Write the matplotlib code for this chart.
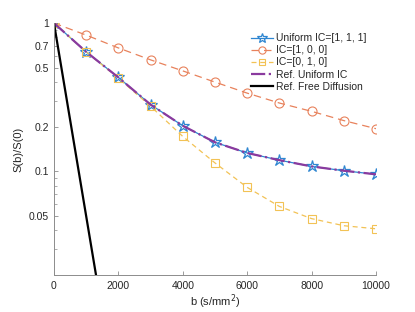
import numpy as np
import matplotlib.pyplot as plt
from matplotlib.ticker import FixedLocator, NullFormatter, LogLocator

plt.rcParams['font.family'] = ['Liberation Sans', 'DejaVu Sans']

# datos
b = [0, 1000, 2000, 3000, 4000, 5000, 6000, 7000, 8000, 9000, 10000]
s_uniforme = [1.0, 0.64, 0.43, 0.282, 0.203, 0.157, 0.133, 0.119, 0.108, 0.101, 0.0955]
s_ic100 = [1.0, 0.83, 0.68, 0.565, 0.476, 0.40, 0.337, 0.289, 0.254, 0.22, 0.194]
s_ic010 = [1.0, 0.64, 0.425, 0.275, 0.172, 0.114, 0.078, 0.058, 0.048, 0.043, 0.041]
s_ref_uniforme = [1.0, 0.64, 0.43, 0.282, 0.203, 0.157, 0.133, 0.119, 0.108, 0.101, 0.0955]
b_libre = [0, 2000]
s_libre = [1.0, 0.0025]

fig = plt.figure(figsize=(4.15, 3.12), dpi=100)
ax = fig.add_axes([0.130, 0.1186, 0.776, 0.8074])

ax.plot(b, s_uniforme, '-', marker='*', color='#2E86D1', mfc='none', ms=9, mew=0.9, lw=0.9,
        label='Uniform IC=[1, 1, 1]')
ax.plot(b, s_ic100, '--', marker='o', color='#E8825C', mfc='none', ms=6.5, mew=0.8, lw=0.9,
        dashes=(6, 4), label='IC=[1, 0, 0]')
ax.plot(b, s_ic010, '--', marker='s', color='#F2C255', mfc='none', ms=5.5, mew=0.8, lw=0.9,
        dashes=(4, 3), label='IC=[0, 1, 0]')
ax.plot(b, s_ref_uniforme, '-.', color='#8A3A9E', lw=1.6, label='Ref. Uniform IC')
ax.plot(b_libre, s_libre, '-', color='black', lw=1.6, label='Ref. Free Diffusion')

ax.set_yscale('log')
ax.set_xlim(0, 10000)
ax.set_ylim(0.02, 1)
ax.set_xticks([0, 2000, 4000, 6000, 8000, 10000])
ax.set_xticklabels(['0', '2000', '4000', '6000', '8000', '10000'])
ax.yaxis.set_major_locator(FixedLocator([0.05, 0.1, 0.2, 0.5, 0.7, 1]))
ax.set_yticklabels(['0.05', '0.1', '0.2', '0.5', '0.7', '1'])
ax.yaxis.set_minor_locator(LogLocator(base=10, subs=np.arange(2, 10)))
ax.yaxis.set_minor_formatter(NullFormatter())

for lado in ['top', 'right']:
    ax.spines[lado].set_visible(False)
for lado in ['left', 'bottom']:
    ax.spines[lado].set_color('#8c8c8c')
    ax.spines[lado].set_linewidth(0.7)
ax.tick_params(direction='in', colors='#8c8c8c', labelcolor='#262626', labelsize=7.5, length=3, width=0.6)
ax.tick_params(which='minor', direction='in', colors='#8c8c8c', length=1.8, width=0.5)
ax.tick_params(axis='x', pad=4)

ax.set_xlabel('b (s/mm$^2$)', fontsize=8, color='#262626', labelpad=1)
ax.set_ylabel('S(b)/S(0)', fontsize=8, color='#262626', labelpad=4)

leg = ax.legend(loc='upper right', bbox_to_anchor=(0.985, 0.976), frameon=False, fontsize=7.5,
                handlelength=2.1, handletextpad=0.3, labelspacing=0.2, borderaxespad=0,
                markerscale=0.8)
for t in leg.get_texts():
    t.set_color('#262626')

plt.savefig('out.png', dpi=100)
